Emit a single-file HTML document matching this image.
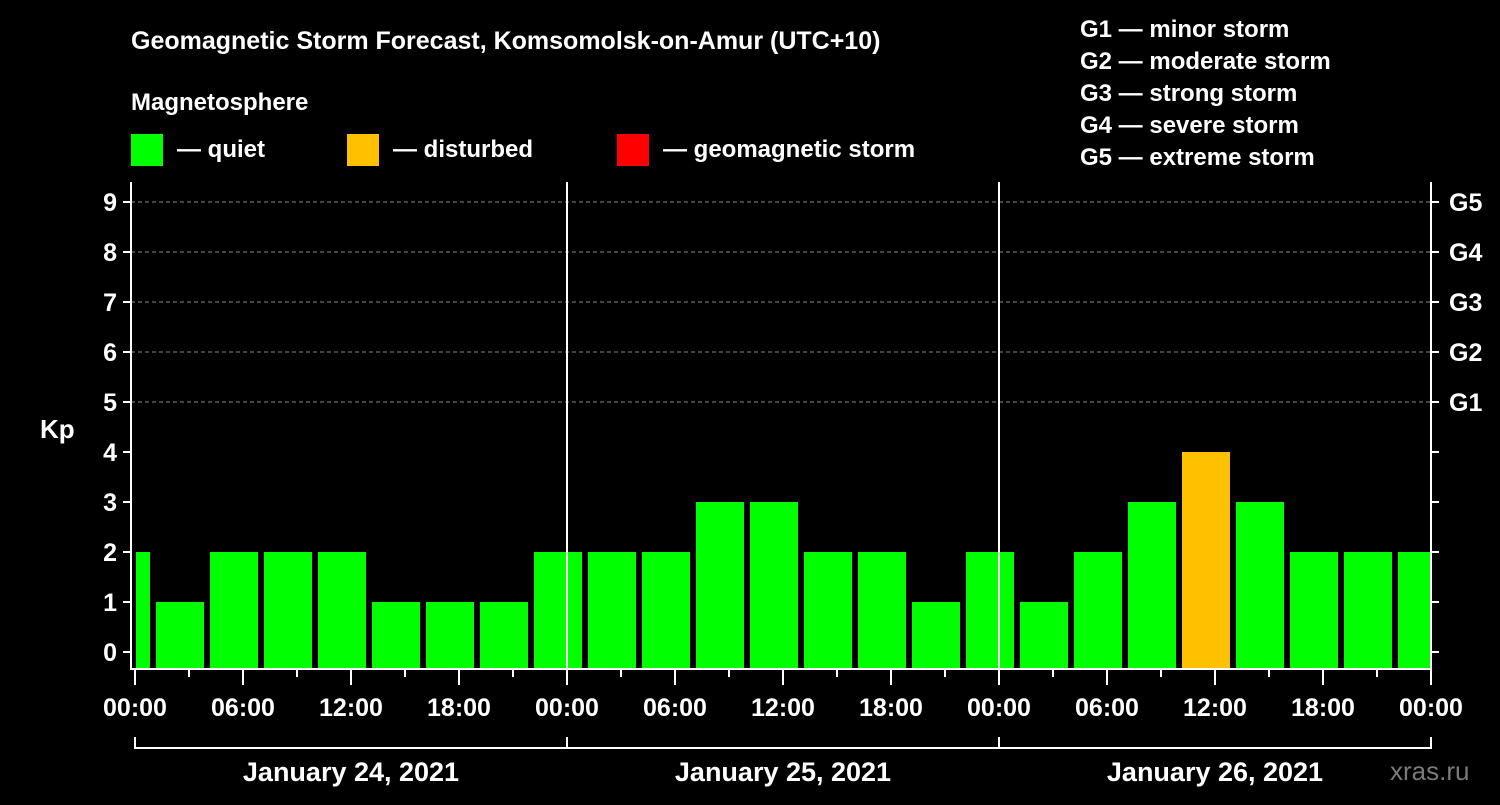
<!DOCTYPE html>
<html><head><meta charset="utf-8"><style>
body{margin:0;background:#000;width:1500px;height:800px;overflow:hidden}
svg text{font-family:"Liberation Sans",Arial,sans-serif;font-weight:bold;fill:#fff}
</style></head><body>
<svg id="c" width="1500" height="800" xmlns="http://www.w3.org/2000/svg">
<text x="131" y="49" font-size="25">Geomagnetic Storm Forecast, Komsomolsk-on-Amur (UTC+10)</text>
<text x="131" y="110" font-size="24">Magnetosphere</text>
<rect x="131" y="134" width="32" height="32" fill="#00ff00"/>
<text x="177" y="157" font-size="24">— quiet</text>
<rect x="347" y="134" width="32" height="32" fill="#ffc000"/>
<text x="393" y="157" font-size="24">— disturbed</text>
<rect x="617" y="134" width="32" height="32" fill="#ff0000"/>
<text x="663" y="157" font-size="24">— geomagnetic storm</text>
<g font-size="24">
<text x="1080" y="37">G1 — minor storm</text>
<text x="1080" y="69">G2 — moderate storm</text>
<text x="1080" y="101">G3 — strong storm</text>
<text x="1080" y="133">G4 — severe storm</text>
<text x="1080" y="165">G5 — extreme storm</text>
</g>
<text x="40" y="438" font-size="26">Kp</text>
<text x="1390" y="780" font-size="26" fill="#888" style="fill:#7a7a7a;font-weight:normal">xras.ru</text>
<g id="plot"></g>
</svg>
<script>
const kpValues=[2,1,2,2,2,1,1,1,2,2,2,3,3,2,2,1,2,1,2,3,4,3,2,2,2];
const yTicks=[0,1,2,3,4,5,6,7,8,9];
const gLabels=["G1","G2","G3","G4","G5"];
const xTickLabels=["00:00","06:00","12:00","18:00","00:00","06:00","12:00","18:00","00:00","06:00","12:00","18:00","00:00"];
const dayLabels=["January 24, 2021","January 25, 2021","January 26, 2021"];
const X0=135,PXH=18,Y0=652,PXK=50,TOP=182,BOT=668,RIGHT=1431,LEFT=131;
const xs=h=>X0+h*PXH, ys=k=>Y0-k*PXK;
const NS="http://www.w3.org/2000/svg",g=document.getElementById('plot');
function mk(t,a){const e=document.createElementNS(NS,t);for(const k in a)e.setAttribute(k,a[k]);g.appendChild(e);return e;}
// grid
[5,6,7,8,9].forEach(k=>{const e=mk('line',{x1:LEFT,x2:RIGHT,y1:ys(k),y2:ys(k),stroke:'#888','stroke-dasharray':'4,3','stroke-width':1});

});
// bars
kpValues.forEach((v,i)=>{const c=3*i-0.5;let x1=xs(c)-24,x2=xs(c)+24;x1=Math.max(x1,X0+1);x2=Math.min(x2,RIGHT-1);
const col=v>=5?'#ff0000':(v>=4?'#ffc000':'#00ff00');
const e=mk('rect',{x:x1,y:ys(v),width:x2-x1,height:BOT-ys(v),fill:col});

});
// day separators
[1,2].forEach(d=>{const e=mk('line',{x1:xs(24*d),x2:xs(24*d),y1:TOP,y2:BOT,stroke:'#fff','stroke-width':2});

});
// frame
const f=mk('path',{d:`M${LEFT} ${TOP}V${BOT+1}H${RIGHT}V${TOP}`,fill:'none',stroke:'#fff','stroke-width':2});


// y ticks
yTicks.forEach(k=>{mk('line',{x1:LEFT-8,x2:LEFT,y1:ys(k),y2:ys(k),stroke:'#fff','stroke-width':2});
mk('line',{x1:RIGHT,x2:RIGHT+8,y1:ys(k),y2:ys(k),stroke:'#fff','stroke-width':2});
const t=mk('text',{x:LEFT-14,y:ys(k)+9,'font-size':25,'text-anchor':'end'});t.textContent=k;

});
gLabels.forEach((s,i)=>{const t=mk('text',{x:1449,y:ys(5+i)+9,'font-size':25});t.textContent=s;

});
// x ticks
for(let h=0;h<=72;h+=3){const major=h%6==0;mk('line',{x1:xs(h),x2:xs(h),y1:BOT+2,y2:BOT+(major?17:9),stroke:'#fff','stroke-width':2});}
xTickLabels.forEach((s,i)=>{const t=mk('text',{x:xs(6*i),y:716,'font-size':25,'text-anchor':'middle'});t.textContent=s;

});
// day brackets
const br=mk('path',{d:`M${xs(0)} 737V748H${xs(72)}V737M${xs(24)} 737V748M${xs(48)} 737V748`,fill:'none',stroke:'#fff','stroke-width':2});


dayLabels.forEach((s,i)=>{const t=mk('text',{x:xs(24*i+12),y:781,'font-size':27,'text-anchor':'middle'});t.textContent=s;

});
</script>
</body></html>
